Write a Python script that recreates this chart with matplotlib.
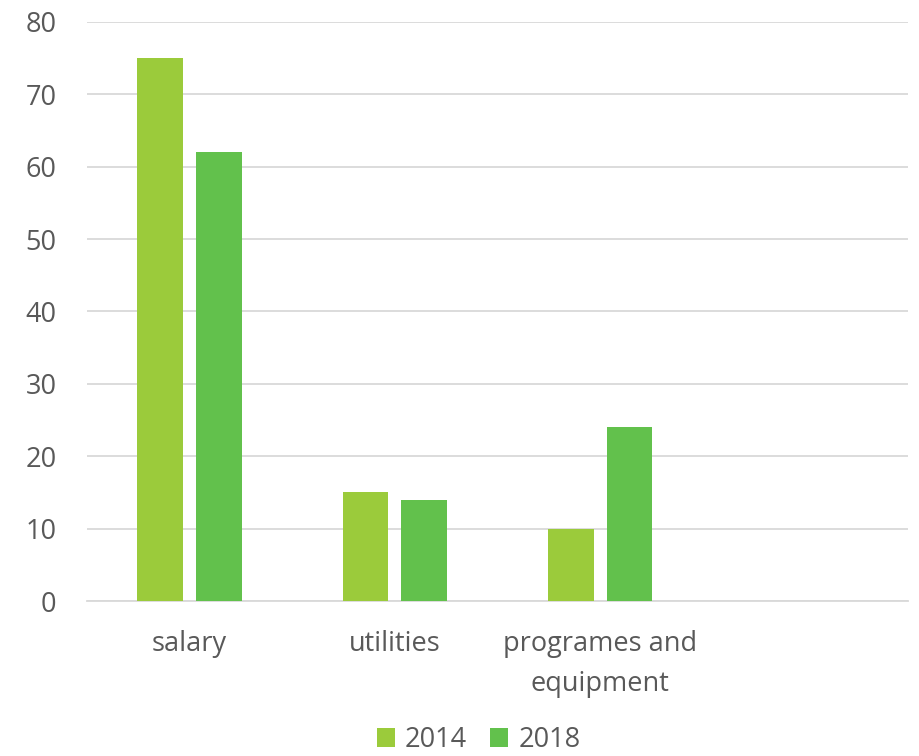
import matplotlib.pyplot as plt
import numpy as np

categories = ["salary", "utilities", "programes and\nequipment", ""]
values_2014 = [75, 15, 10, np.nan]
values_2018 = [62, 14, 24, np.nan]
years = ["2014", "2018"]

colors = ["#9BCB3B", "#62C14C"]
text_color = "#595959"
grid_color = "#D9D9D9"

plt.rcParams["font.family"] = ["Open Sans", "DejaVu Sans"]

fig = plt.figure(figsize=(9.19, 7.56), dpi=100)
ax = fig.add_axes([0.0947, 0.205, 0.8934, 0.766])

x = np.arange(len(categories))
width = 0.223
offset = 0.143
ax.bar(x - offset, values_2014, width, color=colors[0], label=years[0], zorder=3)
ax.bar(x + offset, values_2018, width, color=colors[1], label=years[1], zorder=3)

ax.set_xlim(-0.5, len(categories) - 0.5)
ax.set_ylim(0, 80)
ax.set_yticks(range(0, 81, 10))
ax.set_xticks(x)
ax.set_xticklabels(categories, linespacing=1.55)

ax.grid(axis="y", color=grid_color, linewidth=1.3, zorder=0)
for side in ["top", "right", "left"]:
    ax.spines[side].set_visible(False)
ax.spines["bottom"].set_color(grid_color)
ax.spines["bottom"].set_linewidth(1.3)
ax.tick_params(axis="both", length=0, labelsize=19.5, colors=text_color)
ax.tick_params(axis="x", pad=21)
ax.tick_params(axis="y", pad=22)

ax.legend(
    loc="lower center",
    bbox_to_anchor=(0.477, -0.306),
    ncol=2,
    frameon=False,
    fontsize=19.5,
    labelcolor=text_color,
    handlelength=0.67,
    handleheight=0.67,
    handletextpad=0.37,
    columnspacing=0.85,
)

fig.savefig("out.png", dpi=100)
